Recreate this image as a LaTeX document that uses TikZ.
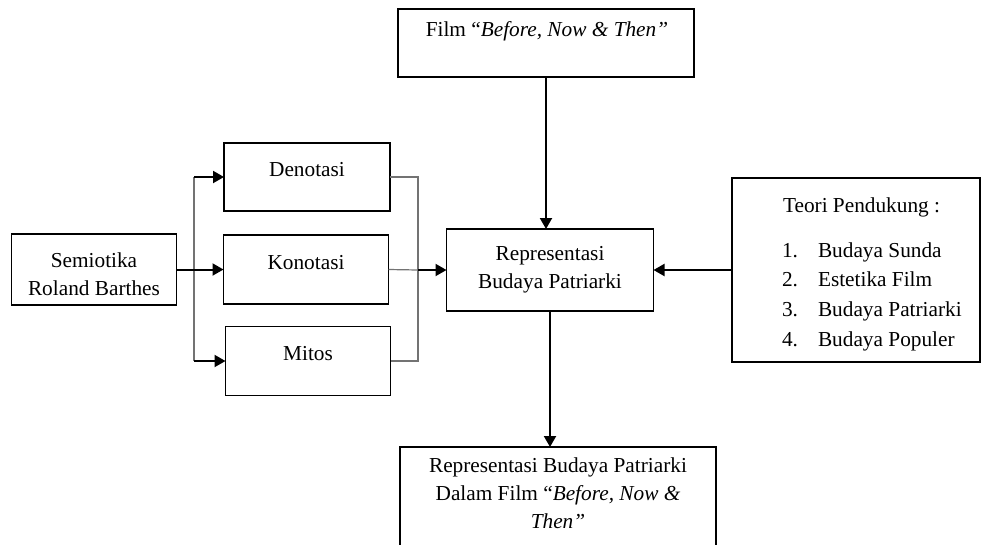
\documentclass[tikz,border=0pt]{standalone}
\usepackage{fontspec}
\setmainfont{Liberation Serif}
\usetikzlibrary{arrows.meta}
\begin{document}
\begin{tikzpicture}[x=1pt,y=-1pt,
  box/.style={draw=black,line width=1.6pt,inner sep=0pt,outer sep=0pt},
  txt/.style={inner sep=0pt,outer sep=0pt,font=\fontsize{21.3}{28.3}\selectfont},
  arr/.style={draw=black,line width=2pt,-{Triangle[length=11pt,width=12pt]}},
  thinline/.style={draw=black!55,line width=1.2pt}]
\useasboundingbox (0,0) rectangle (981,544);
\clip (0,0) rectangle (981,544);
% boxes
\node[box,minimum width=296pt,minimum height=68pt] (film) at (546,43) {};
\node[box,minimum width=248pt,minimum height=184pt] (teori) at (856,270) {};
\node[box,minimum width=207pt,minimum height=82pt] (rep) at (550,270) {};
\node[box,minimum width=165pt,minimum height=71pt] (semi) at (94,269.5) {};
\node[box,minimum width=166pt,minimum height=68pt] (deno) at (307,177) {};
\node[box,minimum width=165pt,minimum height=69pt] (kono) at (306,269.5) {};
\node[box,minimum width=165pt,minimum height=69pt] (mitos) at (308,361) {};
\node[box,minimum width=316pt,minimum height=133pt] (hasil) at (558,513.5) {};
% texts
\node[txt,anchor=base] (filmtxt) at (547,36) {Film “\textit{Before, Now \& Then”}};
\node[txt,anchor=base] (denotxt) at (307,176) {Denotasi};
\node[txt,anchor=base] (konotxt) at (306,269) {Konotasi};
\node[txt,anchor=base] (mitostxt) at (308,360) {Mitos};
\node[txt,anchor=base] (semitxt) at (94,267) {\begin{tabular}[t]{@{}c@{}}Semiotika\\Roland Barthes\end{tabular}};
\node[txt,anchor=base] (reptxt) at (550,260) {\begin{tabular}[t]{@{}c@{}}Representasi\\Budaya Patriarki\end{tabular}};
\node[txt,anchor=base west] (teorititle) at (783,212) {Teori Pendukung :};
\node[txt,anchor=base west,font=\fontsize{21.3}{29.7}\selectfont] (teorilist) at (782,257) {\begin{tabular}[t]{@{}p{36pt}@{}l@{}}1. & Budaya Sunda\\2. & Estetika Film\\3. & Budaya Patriarki\\4. & Budaya Populer\end{tabular}};
\node[txt,anchor=base,font=\fontsize{21.3}{28}\selectfont] (hasiltxt) at (558,472) {\begin{tabular}[t]{@{}c@{}}Representasi Budaya Patriarki\\Dalam Film “\textit{Before, Now \&}\\\textit{Then”}\end{tabular}};
% junction points
\coordinate (spl) at (194,270);
\coordinate (col) at (418,270);
% connectors
\draw[arr] (film.south) -- (film.south |- rep.north);
\draw[arr] (teori.west) -- (rep.east);
\draw[arr] (rep.south) -- (rep.south |- hasil.north);
\draw[thinline] (spl |- deno.west) -- (spl |- mitos.west);
\draw[arr] (semi.east) -- (kono.west);
\draw[arr] (spl |- deno.west) -- (deno.west);
\draw[arr] (spl |- mitos.west) -- (mitos.west);
\draw[thinline] (deno.east) -- (col |- deno.east) -- (col |- mitos.east) -- (mitos.east);
\draw[thinline] (kono.east) -- (col);
\draw[arr] (col) -- (rep.west);
\end{tikzpicture}
\end{document}
